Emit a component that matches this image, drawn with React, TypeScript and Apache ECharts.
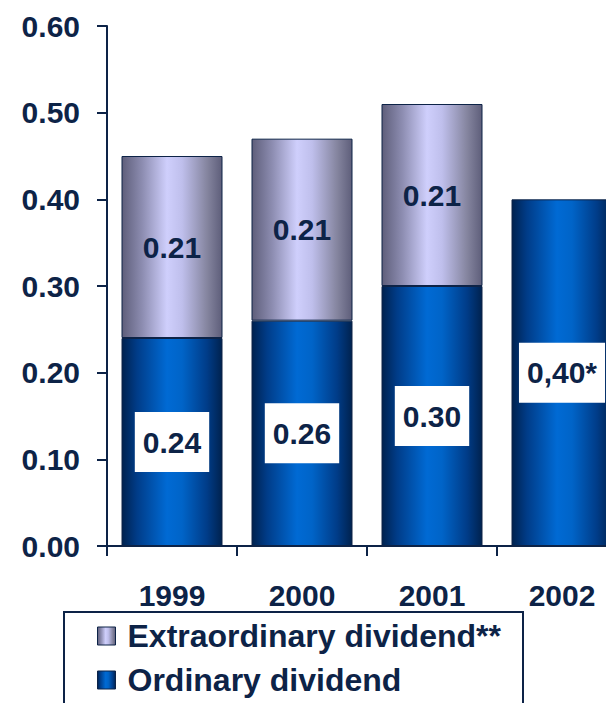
import React, { useEffect, useRef } from "react";
import * as echarts from "echarts";

const categories = ["1999", "2000", "2001", "2002"];
const ordinary = [0.24, 0.26, 0.3, 0.4];
const extraordinary = [0.21, 0.21, 0.21, null];
const ordinaryLabels = ["0.24", "0.26", "0.30", "0,40*"];
const extraordinaryLabels = ["0.21", "0.21", "0.21", ""];
const yTicks = { min: 0, max: 0.6, interval: 0.1 };
const legendNames = ["Extraordinary dividend**", "Ordinary dividend"];

const NAVY = "#0d2347";
const FONT = "'Liberation Sans', Arial, sans-serif";
const FS = 30;

export default function App() {
  const ref = useRef<HTMLDivElement>(null);
  useEffect(() => {
    if (!ref.current) return;
    const chart = echarts.init(ref.current, undefined, { renderer: "svg" });
    const blueGrad = new echarts.graphic.LinearGradient(0, 0, 1, 0, [
      { offset: 0, color: "#00224f" },
      { offset: 0.15, color: "#003c88" },
      { offset: 0.45, color: "#006ad4" },
      { offset: 0.6, color: "#0064c8" },
      { offset: 0.85, color: "#003c88" },
      { offset: 1, color: "#00224f" },
    ]);
    const lavGrad = new echarts.graphic.LinearGradient(0, 0, 1, 0, [
      { offset: 0, color: "#5e5e7a" },
      { offset: 0.2, color: "#8c8cb0" },
      { offset: 0.45, color: "#cfcffc" },
      { offset: 0.6, color: "#bfbfec" },
      { offset: 0.85, color: "#85859f" },
      { offset: 1, color: "#5e5e7a" },
    ]);
    const legendBase = {
      orient: "horizontal",
      left: 97,
      padding: 0,
      itemWidth: 18,
      itemHeight: 18,
      icon: "rect",
      itemStyle: { borderColor: NAVY, borderWidth: 1 },
      textStyle: {
        color: NAVY,
        fontSize: 32,
        fontWeight: "bold",
        fontFamily: FONT,
        padding: [0, 0, 0, 7],
      },
      selectedMode: false,
    };
    chart.setOption({
      animation: false,
      textStyle: { fontFamily: FONT },
      grid: {
        left: 107,
        top: 26,
        width: 520,
        height: 520,
        containLabel: false,
        outerBoundsMode: "none",
      },
      xAxis: {
        type: "category",
        data: categories,
        axisLine: { lineStyle: { color: NAVY, width: 2 } },
        axisTick: { show: true, length: 10, lineStyle: { color: NAVY, width: 2 } },
        axisLabel: {
          color: NAVY,
          fontSize: FS,
          fontWeight: "bold",
          fontFamily: FONT,
          margin: 34,
          hideOverlap: false,
        },
      },
      yAxis: {
        type: "value",
        min: yTicks.min,
        max: yTicks.max,
        interval: yTicks.interval,
        splitLine: { show: false },
        axisLine: { show: true, lineStyle: { color: NAVY, width: 2 } },
        axisTick: { show: true, length: 10, lineStyle: { color: NAVY, width: 2 } },
        axisLabel: {
          color: NAVY,
          fontSize: FS,
          fontWeight: "bold",
          fontFamily: FONT,
          margin: 27,
          formatter: (v: number) => v.toFixed(2),
        },
      },
      legend: [
        { ...legendBase, top: 620, data: [legendNames[0]] },
        { ...legendBase, top: 664, data: [legendNames[1]] },
      ],
      graphic: [
        {
          type: "rect",
          shape: { x: 64, y: 612, width: 459, height: 140 },
          style: { fill: "none", stroke: NAVY, lineWidth: 2 },
          silent: true,
        },
      ],
      series: [
        {
          name: legendNames[1],
          type: "bar",
          stack: "d",
          barWidth: 101,
          data: ordinary,
          itemStyle: { color: blueGrad, borderColor: NAVY, borderWidth: 1 },
          label: {
            show: true,
            position: "inside",
            formatter: (p: any) => ordinaryLabels[p.dataIndex],
            color: NAVY,
            fontSize: FS,
            fontWeight: "bold",
            fontFamily: FONT,
            backgroundColor: "#ffffff",
            padding: [16, 8, 14, 8],
          },
        },
        {
          name: legendNames[0],
          type: "bar",
          stack: "d",
          barWidth: 101,
          data: extraordinary,
          itemStyle: { color: lavGrad, borderColor: NAVY, borderWidth: 1 },
          label: {
            show: true,
            position: "inside",
            formatter: (p: any) => extraordinaryLabels[p.dataIndex],
            color: NAVY,
            fontSize: FS,
            fontWeight: "bold",
            fontFamily: FONT,
          },
        },
      ],
    });
    return () => chart.dispose();
  }, []);
  return (
    <div
      ref={ref}
      style={{ position: "fixed", left: 0, top: 0, width: 606, height: 703, background: "#fff" }}
    />
  );
}
